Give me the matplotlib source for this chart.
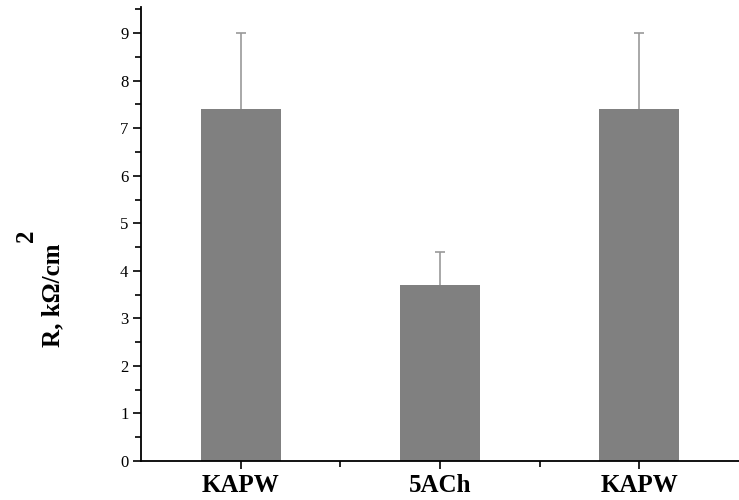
import matplotlib.pyplot as plt
from matplotlib.ticker import MultipleLocator, FixedLocator

plt.rcParams['font.family'] = ['Liberation Serif', 'DejaVu Serif']

labels = ['KAPW', '5ACh', 'KAPW']
values = [7.4, 3.7, 7.4]
errors = [1.6, 0.7, 1.6]

fig = plt.figure(figsize=(7.39, 5.0), dpi=100)
ax = fig.add_axes([141 / 739, 39 / 500, 598 / 739, 454 / 500])

pos = list(range(1, len(values) + 1))
ax.bar(pos, values, width=0.4, color='#808080', edgecolor='none', zorder=2)
eb = ax.errorbar(pos, values, yerr=[[0] * len(errors), errors], fmt='none',
                 ecolor='#999999', elinewidth=1.2, capsize=3.5, capthick=1.2, zorder=1)
# only the upper whisker is shown
eb[1][0].set_visible(False)

ax.set_xlim(0.5, len(values) + 0.5)
ax.set_ylim(0, 9.55)
ax.set_xticks(pos)
ax.set_xticklabels(labels, fontsize=18, fontweight='bold')
ax.xaxis.set_minor_locator(FixedLocator([1.5, 2.5]))
ax.yaxis.set_major_locator(MultipleLocator(1))
ax.yaxis.set_minor_locator(MultipleLocator(0.5))
ax.tick_params(axis='y', labelsize=12)
ax.tick_params(which='major', direction='out', length=6, width=1.2, pad=3)
ax.tick_params(which='minor', direction='out', length=4, width=1.2)

for side in ['top', 'right']:
    ax.spines[side].set_visible(False)
for side in ['left', 'bottom']:
    ax.spines[side].set_linewidth(1.3)

# axis title, with the exponent set apart above it
fig.text(53 / 739, 1 - 295 / 500, 'R, kΩ/cm', rotation=90, fontsize=18,
         fontweight='bold', ha='center', va='center')
fig.text(26 / 739, 1 - 236 / 500, '2', rotation=90, fontsize=18,
         fontweight='bold', ha='center', va='center')

fig.savefig('out.png', dpi=100)
